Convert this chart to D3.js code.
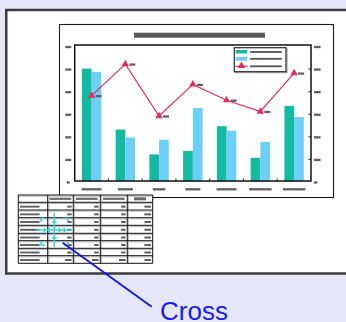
<!DOCTYPE html>
<html>
<head>
<meta charset="utf-8">
<script src="https://cdn.jsdelivr.net/npm/d3@7"></script>
<style>
  html, body { margin: 0; padding: 0; background: #e5e7f9; }
  svg { display: block; }
</style>
</head>
<body>
<svg id="screen" width="346" height="322"></svg>
<script>
// ---- data -------------------------------------------------------------
const categories = ["Northern", "Middle", "South", "Harbor", "Lakeside", "Riverside", "Hillcrest"];
const seriesNames = ["Sales Store A", "Sales Store B", "Growth Rate %"];
const seriesA = [50, 23, 12, 13.5, 24.5, 10.5, 33.5];
const seriesB = [48.5, 19.5, 18.5, 32.5, 22.5, 17.5, 28.5];
const lineValues = [38, 52, 29, 43, 36, 31, 48];
const yTicks = [0, 10, 20, 30, 40, 50, 60];
const chartTitle = "Regional sales comparison and growth rate";

const tableHeader = ["", "Quarter 1", "Quarter 2", "Quarter 3", "Total"];
const tableRowLabels = ["Region 1", "Region 2", "Region 3", "Region 4", "Region 5", "Region 6", "Region 7", "Subtotal"];
const tableQ1 = ["34", "27", "52", "45", "39", "31", "48", "276"];
const tableQ2 = ["41", "33", "29", "38", "47", "36", "22", "246"];
const tableQ3 = ["38", "45", "36", "31", "28", "42", "35", "255"];
const tableTotal = ["113", "105", "117", "114", "114", "109", "105", "777"];

const calloutLabel = "Cross";

// ---- palette ----------------------------------------------------------
const TEAL = "#13b9a0", SKY = "#6dcff6", PINK = "#ea2a5c", GREEK = "#606060";

const svg = d3.select("#screen");

// Greeked text: a short grey bar whose width follows the string length
function greek(g, text, x, y, anchor, perChar, h, color) {
  const w = text.length * perChar;
  const x0 = anchor === "middle" ? x - w / 2 : anchor === "end" ? x - w : x;
  g.append("rect").attr("x", x0).attr("y", y - h / 2)
    .attr("width", w).attr("height", h).attr("fill", color || GREEK);
}

// ---- projection screen -------------------------------------------------
svg.append("rect").attr("x", 6.25).attr("y", 10).attr("width", 360).attr("height", 263.5)
  .attr("fill", "#ffffff").attr("stroke", "#3c3c3c").attr("stroke-width", 2.5);

// ---- chart sheet -------------------------------------------------------
const sheet = svg.append("g");
sheet.append("rect").attr("x", 59.5).attr("y", 24.5).attr("width", 274).attr("height", 173)
  .attr("fill", "#ffffff").attr("stroke", "#1a1a1a").attr("stroke-width", 1.1);

// title
sheet.append("rect").attr("x", 134).attr("y", 32.7)
  .attr("width", chartTitle.length * (131 / 41)).attr("height", 5).attr("fill", "#585858");

const plot = { left: 74.7, right: 311, top: 45, bottom: 181 };

const x0 = d3.scaleBand().domain(categories).range([plot.left, plot.right]).padding(0);
const x1 = d3.scaleBand().domain(["a", "b"]).range([0, x0.bandwidth()])
  .paddingInner(0).paddingOuter(0.74);
const y = d3.scaleLinear().domain([0, 60]).range([181.5, 46]);

// bars
const barData = categories.map((c, i) => ({ c, a: seriesA[i], b: seriesB[i] }));
const groups = sheet.append("g").selectAll("g").data(barData).join("g")
  .attr("transform", d => `translate(${x0(d.c)},0)`);
groups.append("rect").attr("x", x1("a")).attr("width", x1.bandwidth())
  .attr("y", d => y(d.a)).attr("height", d => y(0) - y(d.a)).attr("fill", TEAL);
groups.append("rect").attr("x", x1("b")).attr("width", x1.bandwidth())
  .attr("y", d => y(d.b)).attr("height", d => y(0) - y(d.b)).attr("fill", SKY);

// plot frame
sheet.append("rect").attr("x", plot.left).attr("y", plot.top)
  .attr("width", plot.right - plot.left).attr("height", plot.bottom - plot.top)
  .attr("fill", "none").attr("stroke", "#111").attr("stroke-width", 1.5);

// right axis: short inward ticks
const rightAxis = d3.axisRight(y).tickValues(yTicks.slice(1, -1)).tickSizeInner(-2.5).tickSizeOuter(0).tickFormat("");
const ra = sheet.append("g").attr("transform", `translate(${plot.right},0)`).call(rightAxis);
ra.select(".domain").remove();
ra.selectAll("line").attr("stroke", "#222");

// bottom axis: short inward ticks on the band boundaries
sheet.append("g").selectAll("line").data(categories.slice(1)).join("line")
  .attr("x1", d => x0(d)).attr("x2", d => x0(d))
  .attr("y1", plot.bottom).attr("y2", plot.bottom - 2.5)
  .attr("stroke", "#222").attr("stroke-width", 1);

// greeked tick labels
const leftLabels = sheet.append("g");
yTicks.forEach(v => greek(leftLabels, String(v), 68.3, y(v) + 1, "middle", 3, 2.3));
const rightLabels = sheet.append("g");
yTicks.forEach(v => greek(rightLabels, String(v), 314, y(v) + 1, "start", 3.3, 2.3));
const catLabels = sheet.append("g");
categories.forEach(c => greek(catLabels, c, x0(c) + x0.bandwidth() / 2, 189.3, "middle", 2.5, 2.3));

// growth line with triangle markers
const lineData = categories.map((c, i) => ({ c, v: lineValues[i] }));
const cx = d => x0(d.c) + x0.bandwidth() / 2;
sheet.append("path").datum(lineData)
  .attr("d", d3.line().x(cx).y(d => y(d.v)))
  .attr("fill", "none").attr("stroke", PINK).attr("stroke-width", 1.2);
const tri = d3.symbol().type(d3.symbolTriangle).size(24);
sheet.append("g").selectAll("path").data(lineData).join("path")
  .attr("d", tri).attr("transform", d => `translate(${cx(d)},${y(d.v)})`)
  .attr("fill", PINK);
const valLabels = sheet.append("g");
lineData.forEach(d => greek(valLabels, String(d.v), cx(d) + 4, y(d.v) + 0.5, "start", 3, 2.3));

// legend
const lg = sheet.append("g");
lg.append("rect").attr("x", 235.3).attr("y", 48.7).attr("width", 51.7).attr("height", 24)
  .attr("fill", "none").attr("stroke", "#9a9a9a").attr("stroke-width", 1);
lg.append("rect").attr("x", 234.3).attr("y", 47.7).attr("width", 51.7).attr("height", 24)
  .attr("fill", "#ffffff").attr("stroke", "#2a2a2a").attr("stroke-width", 1.2);
lg.append("rect").attr("x", 235.7).attr("y", 50).attr("width", 11.6).attr("height", 3.5).attr("fill", TEAL);
lg.append("rect").attr("x", 235.7).attr("y", 56.9).attr("width", 11.6).attr("height", 3.8).attr("fill", SKY);
lg.append("line").attr("x1", 235.5).attr("x2", 247.5).attr("y1", 66.3).attr("y2", 66.3)
  .attr("stroke", PINK).attr("stroke-width", 1.2);
lg.append("path").attr("d", tri).attr("transform", "translate(241.5,65.8)").attr("fill", PINK);
[52, 58.8, 66.3].forEach((yy, i) => greek(lg, seriesNames[i], 250, yy, "start", 2.45, 1.8, "#555"));

// ---- data table ---------------------------------------------------------
const colEdges = [18.3, 47.7, 73.3, 100.3, 127.3, 152.7];
const rowEdges = [195, 202.3, 210, 217.7, 225.3, 233.3, 240.7, 248.3, 255.7, 263.3];
const tb = svg.append("g");
tb.append("rect").attr("x", colEdges[0]).attr("y", rowEdges[0])
  .attr("width", colEdges[5] - colEdges[0]).attr("height", rowEdges[9] - rowEdges[0])
  .attr("fill", "#ffffff");
// grey shadow lines next to the black rules
rowEdges.slice(0, -1).forEach(r => tb.append("line")
  .attr("x1", colEdges[0]).attr("x2", colEdges[5]).attr("y1", r + 1.2).attr("y2", r + 1.2)
  .attr("stroke", "#b8b8b8").attr("stroke-width", 1));
colEdges.slice(1, -1).forEach(c => tb.append("line")
  .attr("x1", c + 1.2).attr("x2", c + 1.2).attr("y1", rowEdges[0]).attr("y2", rowEdges[9])
  .attr("stroke", "#c4c4c4").attr("stroke-width", 1));
rowEdges.forEach(r => tb.append("line")
  .attr("x1", colEdges[0]).attr("x2", colEdges[5]).attr("y1", r).attr("y2", r)
  .attr("stroke", "#111").attr("stroke-width", 1));
colEdges.forEach(c => tb.append("line")
  .attr("x1", c).attr("x2", c).attr("y1", rowEdges[0]).attr("y2", rowEdges[9])
  .attr("stroke", "#111").attr("stroke-width", 1));

tableHeader.forEach((h, j) => {
  if (!h) return;
  greek(tb, h, (colEdges[j] + colEdges[j + 1]) / 2, 198.8, "middle", 2.4, j === 4 ? 3 : 2.2, "#6a6a6a");
});
const tableCols = [tableQ1, tableQ2, tableQ3, tableTotal];
tableRowLabels.forEach((lab, i) => {
  const cy = (rowEdges[i + 1] + rowEdges[i + 2]) / 2 + 0.5;
  greek(tb, lab, 20, cy, "start", 2.45, 1.9);
  tableCols.forEach((col, j) => greek(tb, col[i], colEdges[j + 2] - 1.7, cy, "end", 2.2, 2));
});

// ---- cross cursor --------------------------------------------------------
const CY = "#2fd6dc";
const cur = svg.append("g").attr("stroke", CY).attr("stroke-width", 1.5).attr("fill", "none");
const cxp = 54.3, cyp = 230;
cur.append("line").attr("x1", cxp - 18.5).attr("x2", cxp + 18).attr("y1", cyp).attr("y2", cyp);
cur.append("line").attr("x1", cxp).attr("x2", cxp).attr("y1", cyp - 17).attr("y2", cyp + 17);
[-10, -5, 5, 10].forEach(o => cur.append("line")
  .attr("x1", cxp + o).attr("x2", cxp + o).attr("y1", cyp - 2.3).attr("y2", cyp + 2.3));
[-8, 8].forEach(o => cur.append("line")
  .attr("x1", cxp - 2.5).attr("x2", cxp + 2.5).attr("y1", cyp + o).attr("y2", cyp + o));
const bl = 41, br = 68, bt = 218.3, bb = 245, arm = 4;
cur.append("path").attr("d",
  `M${bl},${bt + arm}V${bt}H${bl + arm}` +
  `M${br - arm},${bt}H${br}V${bt + arm}` +
  `M${bl},${bb - arm}V${bb}H${bl + arm}` +
  `M${br - arm},${bb}H${br}V${bb - arm}`);

// ---- callout --------------------------------------------------------------
svg.append("line").attr("x1", 62.7).attr("y1", 242.7).attr("x2", 151.7).attr("y2", 306.7)
  .attr("stroke", "#1414e6").attr("stroke-width", 1.8);
svg.append("text").attr("x", 160).attr("y", 319.5)
  .attr("font-family", "'Liberation Sans', Arial, sans-serif").attr("font-size", 26)
  .attr("fill", "#1a1aee").text(calloutLabel);
</script>
</body>
</html>
